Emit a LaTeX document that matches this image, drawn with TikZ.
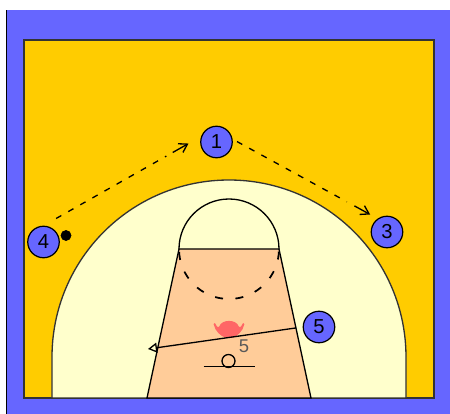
\documentclass[tikz,border=0pt]{standalone}
\usepackage{fontspec}
\setmainfont{Liberation Sans}
\usetikzlibrary{arrows.meta,calc}
\definecolor{courtblue}{HTML}{6666FF}
\definecolor{courtyellow}{HTML}{FFCC00}
\definecolor{courtcream}{HTML}{FFFFCC}
\definecolor{courtpaint}{HTML}{FFCC99}
\definecolor{courtpink}{HTML}{FF6666}
\tikzset{
  player/.style={circle, draw, fill=courtblue, line width=0.7pt, minimum size=0.63cm, inner sep=0pt, font=\fontsize{11.5}{12}\selectfont},
  courtline/.style={line width=0.75pt},
  cut/.style={line width=0.75pt, dash pattern=on 0.12cm off 0.158cm},
  cuttip/.style={line width=0.75pt, -{Straight Barb[length=0.16cm,width=0.2cm]}}
}
\begin{document}
\begin{tikzpicture}
            \useasboundingbox (0,0) rectangle (9,8.28);

            % Blue surround
            \fill [courtblue] (0.14,0) rectangle (9,8.08);
            \fill [black] (0.11,0) rectangle (0.14,8.08);

            % Court
            \filldraw [courtline, fill=courtyellow, draw=black!80] (0.48,0.32) rectangle (8.68,7.48);

            % Three point line
            \filldraw [courtline, fill=courtcream, draw=black!80] (1.04,0.32) -- (1.04,1.14) arc (180:0:3.54) -- (8.12,0.32) -- cycle;

            % Free throw circle, top half
            \draw [courtline] (3.58,3.30) arc (180:0:1);

            % Paint
            \filldraw [courtline, fill=courtpaint] (2.94,0.32) -- (3.58,3.30) -- (5.58,3.30) -- (6.22,0.32) -- cycle;

            % Free throw circle, dashed half
            \draw [line width=1pt, dash pattern=on 0.16cm off 0.25cm, dash phase=0.35cm] (3.58,3.30) arc (180:360:1);

            % Pink mark
            \filldraw [courtpink, line width=1pt, line join=round] (4.29,1.80) .. controls (4.33,1.72) and (4.36,1.70) .. (4.40,1.74)
                .. controls (4.44,1.88) and (4.72,1.88) .. (4.76,1.74)
                .. controls (4.80,1.70) and (4.83,1.72) .. (4.87,1.80)
                .. controls (4.84,1.66) and (4.74,1.58) .. (4.64,1.54)
                -- (4.52,1.54) .. controls (4.42,1.58) and (4.32,1.66) .. (4.29,1.80) -- cycle;

            % Basket
            \draw [courtline] (4.07,0.95) -- (5.09,0.95);
            \draw [courtline] (4.57,1.06) circle (0.13);
            \node [text=black!65, font=\fontsize{10.5}{12}\selectfont] (label5) at (4.88,1.36) {5};

            % Players
            \node [player] (n1) at (4.33,5.44) {1};
            \node [player] (n3) at (7.74,3.64) {3};
            \node [player] (n4) at (0.87,3.44) {4};
            \node [player] (n5) at (6.38,1.74) {5};

            % Ball
            \filldraw [black] (1.32,3.57) circle (0.1);

            % Cuts
            \draw [cut, shorten <=0.29cm, shorten >=0.8cm] (n4.north) -- (n1.160);
            \draw [cuttip, shorten >=0.29cm] ($(n4.north)!0.82!(n1.160)$) -- (n1.160);
            \draw [cut, shorten <=0.1cm, shorten >=0.7cm] (n1.10) -- (n3.125);
            \draw [cuttip, shorten >=0.17cm] ($(n1.10)!0.84!(n3.125)$) -- (n3.125);

            % Pass
            \coordinate (passend) at (2.96,1.30);
            \draw [courtline, shorten <=0.13cm, -{Triangle[open,length=0.18cm,width=0.2cm]}] (n5.west) -- (passend);
        \end{tikzpicture}
\end{document}
